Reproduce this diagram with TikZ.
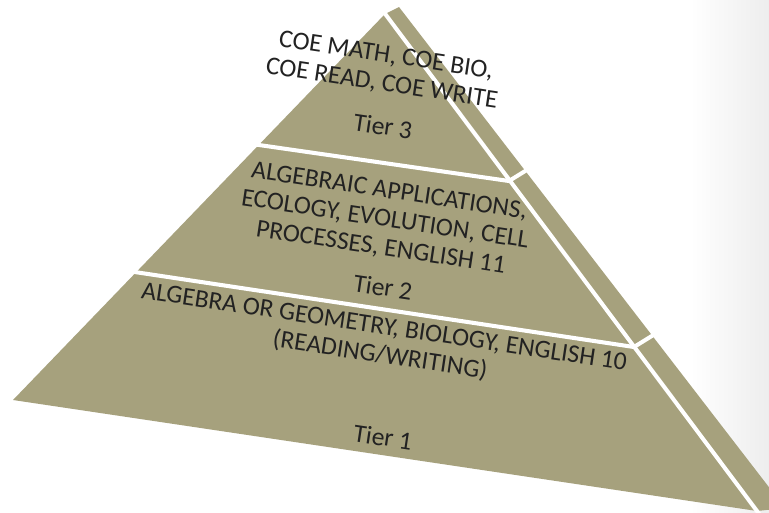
\documentclass[tikz,border=0pt]{standalone}
\usepackage{fontspec}
\setmainfont{Carlito}
\definecolor{olive}{HTML}{A6A17D}
\definecolor{txt}{HTML}{222222}
\tikzset{
  face/.style={fill=olive, draw=none},
  sep/.style={draw=white, line width=2.3pt},
  tiertext/.style={text=txt, align=center, rotate=-8.5, inner sep=0pt,
    font=\fontsize{14.6}{16.3}\selectfont},
}
\begin{document}
\begin{tikzpicture}[x=0.02cm,y=-0.02cm]
\useasboundingbox (0,0) rectangle (769,512);
\fill[white] (0,0) rectangle (769,512);
\shade[left color=white, right color=black!7, draw=none] (690,0) rectangle (769,512);
\begin{scope}
\clip (0,0) rectangle (769,512);
% silhouette
\coordinate (L) at (13,400);
\coordinate (A) at (385,14);
\coordinate (T) at (399,7);
\coordinate (O) at (785,508);
\coordinate (R) at (757,511);
\fill[face] (L) -- (A) -- (T) -- (O) -- (R) -- cycle;
% front/side edge
\coordinate (E1) at (383,11);
\coordinate (E2) at (760,515);
\draw[sep] (E1) -- (E2);
% divider between tier 2 and 3
\coordinate (D2l) at (252,144);
\coordinate (D2m) at (509,181);
\coordinate (D2r) at (530,168);
\draw[sep] (D2l) -- (D2m) -- (D2r);
% divider between tier 1 and 2
\coordinate (D1l) at (128,271);
\coordinate (D1m) at (634,347);
\coordinate (D1r) at (655,334);
\draw[sep] (D1l) -- (D1m) -- (D1r);
\end{scope}
% texts
\node[tiertext] (t3) at (384,70) {COE MATH, COE BIO,\\COE READ, COE WRITE};
\node[tiertext] (t3l) at (383,126) {Tier 3};
\node[tiertext] (t2) at (385,220) {ALGEBRAIC APPLICATIONS,\\ECOLOGY, EVOLUTION, CELL\\PROCESSES, ENGLISH 11};
\node[tiertext] (t2l) at (383,287) {Tier 2};
\node[tiertext] (t1) at (382,342) {ALGEBRA OR GEOMETRY, BIOLOGY, ENGLISH 10\\(READING/WRITING)};
\node[tiertext] (t1l) at (383,437) {Tier 1};
\end{tikzpicture}
\end{document}
